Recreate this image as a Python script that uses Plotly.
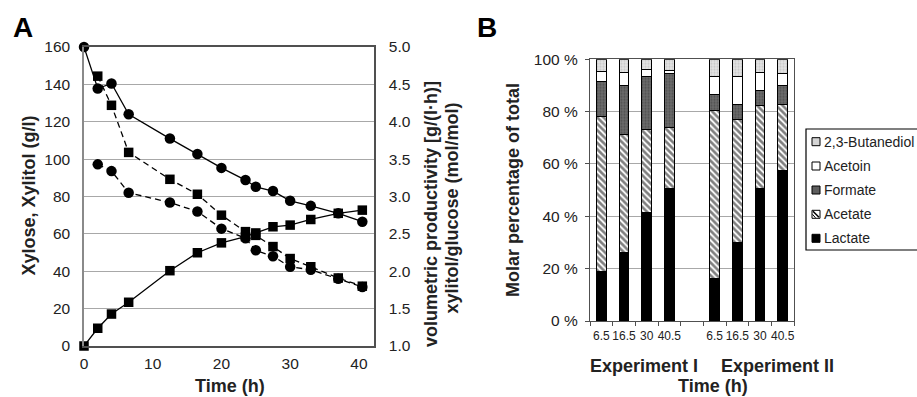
import plotly.graph_objects as go

# ---------------- Panel A data ----------------
time_h = [0, 2, 4, 6.5, 12.5, 16.5, 20, 23.5, 25, 27.5, 30, 33, 37, 40.5]
xylose = [160, 137.8, 140.5, 124, 111, 102.7, 95.3, 88.8, 85.2, 82.9, 77.7, 75, 71, 66.5]
xylitol = [0, 9.5, 17.1, 23.4, 40.3, 49.9, 55.2, 58.5, 60.5, 63.8, 64.7, 67.7, 71, 72.7]
time_r = [2, 4, 6.5, 12.5, 16.5, 20, 23.5, 25, 27.5, 30, 33, 37, 40.5]
productivity = [4.61, 4.22, 3.59, 3.23, 3.03, 2.75, 2.53, 2.48, 2.33, 2.17, 2.06, 1.91, 1.80]
xylitol_glucose = [3.43, 3.34, 3.05, 2.92, 2.80, 2.57, 2.44, 2.28, 2.20, 2.06, 2.02, 1.90, 1.79]

left_ticks = [0, 20, 40, 60, 80, 100, 120, 140, 160]
right_ticks = [1.0, 1.5, 2.0, 2.5, 3.0, 3.5, 4.0, 4.5, 5.0]
time_ticks = [0, 10, 20, 30, 40]

# ---------------- Panel B data ----------------
sample_times = ["6.5", "16.5", "30", "40.5", "6.5", "16.5", "30", "40.5"]
bar_pos = [0, 1, 2, 3, 5, 6, 7, 8]
lactate = [19.1, 26.1, 41.5, 50.7, 16.3, 29.9, 50.7, 57.7]
acetate = [59.0, 45.2, 31.7, 23.3, 64.3, 47.2, 31.7, 25.2]
formate = [13.4, 18.5, 20.4, 20.4, 6.1, 5.8, 5.6, 6.9]
acetoin = [4.0, 5.2, 2.6, 1.3, 6.7, 10.7, 7.0, 4.8]
butanediol = [4.5, 5.0, 3.8, 4.3, 6.6, 6.4, 5.0, 5.4]
pct_ticks = [0, 20, 40, 60, 80, 100]
pct_labels = ["0 %", "20 %", "40 %", "60 %", "80 %", "100 %"]
legend_names = ["2,3-Butanediol", "Acetoin", "Formate", "Acetate", "Lactate"]

W, H = 917, 397
FONT = "Liberation Sans, Arial, sans-serif"


def px_x(p):
    return p / W


def px_y(p):
    return 1 - p / H


fig = go.Figure()

# Panel A lines
fig.add_trace(go.Scatter(x=time_h, y=xylose, mode="lines+markers", name="Xylose",
                         line=dict(color="black", width=1.3), cliponaxis=False,
                         marker=dict(symbol="circle", size=10.5, color="black"),
                         xaxis="x", yaxis="y"))
fig.add_trace(go.Scatter(x=time_h, y=xylitol, mode="lines+markers", name="Xylitol",
                         line=dict(color="black", width=1.3), cliponaxis=False,
                         marker=dict(symbol="square", size=9.5, color="black"),
                         xaxis="x", yaxis="y"))
fig.add_trace(go.Scatter(x=time_r, y=xylitol_glucose, mode="lines+markers", name="xylitol/glucose",
                         line=dict(color="black", width=1.3, dash="6px,4px"), cliponaxis=False,
                         marker=dict(symbol="circle", size=10.5, color="black"),
                         xaxis="x", yaxis="y2"))
fig.add_trace(go.Scatter(x=time_r, y=productivity, mode="lines+markers", name="volumetric productivity",
                         line=dict(color="black", width=1.3, dash="6px,4px"), cliponaxis=False,
                         marker=dict(symbol="square", size=9.5, color="black"),
                         xaxis="x", yaxis="y2"))

# Panel B stacked bars
bar_line = dict(color="black", width=1)
styles = {
    "Lactate": dict(color="black", line=bar_line),
    "Acetate": dict(color="black", line=bar_line,
                    pattern=dict(shape="\\", bgcolor="white", fgcolor="black",
                                 size=4.5, solidity=0.6)),
    "Formate": dict(color="#5a5a5a", line=bar_line,
                    pattern=dict(shape=".", bgcolor="#6a6a6a", fgcolor="#333333",
                                 size=3, solidity=0.35)),
    "Acetoin": dict(color="white", line=bar_line),
    "2,3-Butanediol": dict(color="#dcdcdc", line=bar_line,
                           pattern=dict(shape=".", bgcolor="#e4e4e4", fgcolor="#a8a8a8",
                                        size=3, solidity=0.4)),
}
series_b = [("Lactate", lactate), ("Acetate", acetate), ("Formate", formate),
            ("Acetoin", acetoin), ("2,3-Butanediol", butanediol)]
for name, vals in series_b:
    fig.add_trace(go.Bar(x=bar_pos, y=vals, name=name, marker=styles[name], width=0.43,
                         xaxis="x3", yaxis="y3"))

grid_c = "#a8a8a8"
axis_c = "#505050"
TICK = 15.5

fig.update_layout(
    width=W, height=H,
    margin=dict(l=0, r=0, t=0, b=0, autoexpand=False),
    paper_bgcolor="white", plot_bgcolor="white",
    font=dict(family=FONT, size=TICK, color="#222222"),
    barmode="stack",
    showlegend=False,
    xaxis=dict(domain=[px_x(84), px_x(374)], range=[0, 42.2], tickvals=time_ticks,
               showgrid=False, zeroline=False, showline=True, mirror=True,
               linecolor=axis_c, linewidth=1.5, ticks="", anchor="y",
               ticklabelstandoff=3, tickfont=dict(size=TICK)),
    yaxis=dict(domain=[px_y(346), px_y(47)], range=[0, 160], tickvals=left_ticks,
               showgrid=True, gridcolor=grid_c, gridwidth=1.3, zeroline=False,
               showline=True, linecolor="#8a8a8a", linewidth=1.5, ticks="", anchor="x",
               ticklabelstandoff=9, tickfont=dict(size=TICK)),
    yaxis2=dict(overlaying="y", side="right", range=[1.0, 5.0], tickvals=right_ticks,
                tickformat=".1f", showgrid=False, zeroline=False, showline=True,
                linecolor=axis_c, linewidth=1.5, ticks="", anchor="x",
                ticklabelstandoff=10, tickfont=dict(size=TICK)),
    xaxis3=dict(domain=[px_x(590), px_x(794)], range=[-0.5, 8.5],
                tickvals=bar_pos, ticktext=sample_times, tickangle=0,
                showgrid=False, zeroline=False, showline=True, mirror=True,
                linecolor=axis_c, linewidth=1.3, ticks="", anchor="y3",
                ticklabelstandoff=3, tickfont=dict(size=12),
                minor=dict(tickvals=[-0.5, 0.5, 1.5, 2.5, 3.5, 4.5, 5.5, 6.5, 7.5, 8.5],
                           ticks="outside", ticklen=4, tickcolor=axis_c)),
    yaxis3=dict(domain=[px_y(321), px_y(59.3)], range=[0, 100], tickvals=pct_ticks,
                ticktext=pct_labels, showgrid=True, gridcolor=grid_c, gridwidth=1.3,
                zeroline=False, showline=True, mirror=True, linecolor=axis_c, linewidth=1.3,
                ticks="outside", ticklen=4, tickcolor=axis_c, anchor="x3",
                ticklabelstandoff=4, tickfont=dict(size=TICK)),
)

TITLE = 18
ann = [
    dict(text="<b>A</b>", x=px_x(22.5), y=px_y(27), font=dict(size=28, color="black")),
    dict(text="<b>B</b>", x=px_x(487), y=px_y(28), font=dict(size=28, color="black")),
    dict(text="<b>Xylose, Xylitol (g/l)</b>", x=px_x(28.5), y=px_y(196), textangle=-90,
         font=dict(size=TITLE)),
    dict(text="<b>Time (h)</b>", x=px_x(229.5), y=px_y(385.5), font=dict(size=TITLE)),
    dict(text="<b>volumetric productivity [g/(l·h)]</b>", x=px_x(431), y=px_y(214),
         textangle=-90, font=dict(size=TITLE)),
    dict(text="<b>xylitol/glucose (mol/mol)</b>", x=px_x(451.5), y=px_y(208),
         textangle=-90, font=dict(size=TITLE)),
    dict(text="<b>Molar percentage of total</b>", x=px_x(512.5), y=px_y(190.5),
         textangle=-90, font=dict(size=TITLE)),
    dict(text="<b>Experiment I</b>", x=px_x(643.5), y=px_y(366), font=dict(size=TITLE)),
    dict(text="<b>Experiment II</b>", x=px_x(777), y=px_y(366), font=dict(size=TITLE)),
    dict(text="<b>Time (h)</b>", x=px_x(713), y=px_y(385.5), font=dict(size=TITLE)),
]
for a in ann:
    a.update(xref="paper", yref="paper", showarrow=False, xanchor="center", yanchor="middle")

# Legend (drawn as a boxed key to the right of panel B)
shapes = [dict(type="rect", xref="paper", yref="paper",
               x0=px_x(806), x1=px_x(940), y0=px_y(250), y1=px_y(129),
               line=dict(color="black", width=1.2), fillcolor="white", layer="above")]
item_y = [141.7, 166, 190, 214.3, 238.3]
swatch_fill = {"2,3-Butanediol": "#d4d4d4", "Acetoin": "white", "Formate": "#5e5e5e",
               "Acetate": "white", "Lactate": "black"}
for name, yc in zip(legend_names, item_y):
    shapes.append(dict(type="rect", xref="paper", yref="paper",
                       x0=px_x(812), x1=px_x(820), y0=px_y(yc + 4), y1=px_y(yc - 4),
                       line=dict(color="black", width=1), fillcolor=swatch_fill[name],
                       layer="above"))
    if name == "Acetate":
        shapes.append(dict(type="line", xref="paper", yref="paper",
                           x0=px_x(813), x1=px_x(819), y0=px_y(yc - 3), y1=px_y(yc + 3),
                           line=dict(color="black", width=1.5), layer="above"))
        shapes.append(dict(type="line", xref="paper", yref="paper",
                           x0=px_x(812.5), x1=px_x(815.5), y0=px_y(yc), y1=px_y(yc + 3.5),
                           line=dict(color="black", width=1), layer="above"))
    ann.append(dict(text=name, x=px_x(821.5), y=px_y(yc), xref="paper", yref="paper",
                    showarrow=False, xanchor="left", yanchor="middle",
                    font=dict(size=14, color="#222222")))

fig.update_layout(annotations=ann, shapes=shapes)

fig.write_html("out.html")
